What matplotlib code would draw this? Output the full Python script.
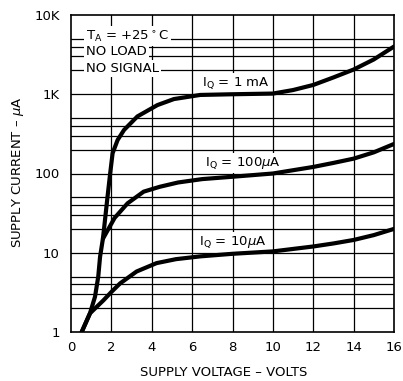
import matplotlib
matplotlib.use("Agg")
import matplotlib.pyplot as plt

plt.rcParams['font.family'] = ['DejaVu Sans']

# supply voltage (V) vs supply current (uA)
v_1ma = [0.53, 0.94, 1.19, 1.35, 1.44, 1.52, 1.58, 1.645, 1.81, 1.94, 2.06, 2.31, 2.63, 3.29, 4.28, 5.1, 6.4, 8.0, 10.0, 11.0, 12.0, 13.0, 14.0, 15.0, 16.0]
i_1ma = [1, 1.72, 2.79, 5.0, 8.9, 12, 15, 21, 51, 100, 180, 265, 355, 525, 730, 870, 980, 1000, 1020, 1130, 1310, 1630, 2050, 2750, 4000]

v_100ua = [1.58, 2.16, 2.8, 3.6, 4.4, 5.3, 6.5, 8.0, 10.0, 12.0, 13.0, 14.0, 15.0, 16.0]
i_100ua = [15, 27.5, 42, 59, 68, 77, 85, 91, 100, 121, 136, 154, 185, 236]

v_10ua = [0.53, 0.94, 1.6, 2.0, 2.43, 3.25, 4.24, 5.2, 6.4, 8.0, 10.0, 12.0, 13.0, 14.0, 15.0, 16.0]
i_10ua = [1, 1.72, 2.5, 3.2, 4.1, 5.8, 7.4, 8.3, 9.0, 9.7, 10.4, 12, 13.1, 14.5, 16.7, 20]

x_ticks = [0, 2, 4, 6, 8, 10, 12, 14, 16]
y_ticks = [1, 10, 100, 1000, 10000]
y_labels = ['1', '10', '100', '1K', '10K']

fig = plt.figure(figsize=(4.03, 3.81), dpi=100)
ax = fig.add_axes([71 / 403, 49 / 381, 323 / 403, 317 / 381])

ax.set_yscale('log')
ax.set_xlim(0, 16)
ax.set_ylim(1, 10000)

# grid: every 2 V, and 1,2,3,4,5 of each decade
for x in x_ticks[1:-1]:
    ax.axvline(x, color='black', lw=0.9, zorder=1)
for d in [1, 10, 100, 1000]:
    for m in [1, 2, 3, 4, 5]:
        if d * m > 1:
            ax.axhline(d * m, color='black', lw=0.9, zorder=1)

lw = 3.0
ax.plot(v_1ma, i_1ma, color='black', lw=lw, solid_capstyle='round', solid_joinstyle='round', zorder=5)
ax.plot(v_100ua, i_100ua, color='black', lw=lw, solid_capstyle='round', solid_joinstyle='round', zorder=5)
ax.plot(v_10ua, i_10ua, color='black', lw=lw, solid_capstyle='round', solid_joinstyle='round', zorder=5)

box = dict(facecolor='white', edgecolor='none', pad=1.5)
fs = 9.5
ax.text(0.74, 5400, r'T$_\mathregular{A}$ = +25$^\circ$C', fontsize=fs, va='center', ha='left', bbox=box, zorder=4)
ax.text(0.74, 3440, 'NO LOAD', fontsize=fs, va='center', ha='left', bbox=box, zorder=4)
ax.text(0.74, 2125, 'NO SIGNAL', fontsize=fs, va='center', ha='left', bbox=box, zorder=4)
ax.text(6.47, 1375, r'I$_\mathregular{Q}$ = 1 mA', fontsize=fs, va='center', ha='left', bbox=box, zorder=4)
ax.text(6.64, 135, r'I$_\mathregular{Q}$ = 100$\mu$A', fontsize=fs, va='center', ha='left', bbox=box, zorder=4)
ax.text(6.34, 13.7, r'I$_\mathregular{Q}$ = 10$\mu$A', fontsize=fs, va='center', ha='left', bbox=box, zorder=4)

ax.set_xticks(x_ticks)
ax.set_yticks(y_ticks)
ax.set_yticklabels(y_labels)
ax.minorticks_off()
ax.tick_params(axis='x', length=0, labelsize=9.5, pad=6.5)
ax.tick_params(axis='y', length=0, labelsize=9.5, pad=8)
for s in ax.spines.values():
    s.set_linewidth(1.2)
    s.set_zorder(6)

fig.text(224 / 403, 1 - 372 / 381, 'SUPPLY VOLTAGE – VOLTS', fontsize=9.5, ha='center', va='center')
fig.text(18 / 403, 1 - 172 / 381, 'SUPPLY CURRENT – $\\mu$A', fontsize=9.5, ha='center', va='center', rotation=90)

fig.savefig('out.png', dpi=100)
